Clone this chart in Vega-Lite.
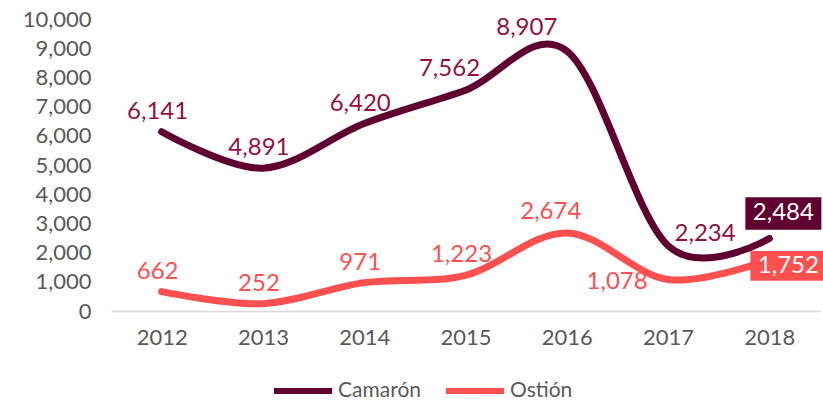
{
  "$schema": "https://vega.github.io/schema/vega-lite/v6.json",
  "width": 709,
  "height": 292,
  "autosize": {"type": "none"},
  "padding": {"left": 111, "top": 19, "right": 3, "bottom": 90},
  "config": {"view": {"stroke": null}, "font": "Lato"},
  "data": {
    "values": [
      {"year": "2012", "series": "Camarón", "value": 6141},
      {"year": "2013", "series": "Camarón", "value": 4891},
      {"year": "2014", "series": "Camarón", "value": 6420},
      {"year": "2015", "series": "Camarón", "value": 7562},
      {"year": "2016", "series": "Camarón", "value": 8907},
      {"year": "2017", "series": "Camarón", "value": 2234},
      {"year": "2018", "series": "Camarón", "value": 2484},
      {"year": "2012", "series": "Ostión", "value": 662},
      {"year": "2013", "series": "Ostión", "value": 252},
      {"year": "2014", "series": "Ostión", "value": 971},
      {"year": "2015", "series": "Ostión", "value": 1223},
      {"year": "2016", "series": "Ostión", "value": 2674},
      {"year": "2017", "series": "Ostión", "value": 1078},
      {"year": "2018", "series": "Ostión", "value": 1752}
    ]
  },
  "encoding": {
    "x": {
      "field": "year", "type": "ordinal",
      "scale": {"type": "point", "padding": 0.5},
      "axis": {"title": null, "labelAngle": 0, "labelFontSize": 22, "labelColor": "#595959", "ticks": false, "domainColor": "#d9d9d9", "domainWidth": 1.5, "labelPadding": 16, "grid": false}
    },
    "y": {
      "field": "value", "type": "quantitative",
      "scale": {"domain": [0, 10000]},
      "axis": {"title": null, "values": [0, 1000, 2000, 3000, 4000, 5000, 6000, 7000, 8000, 9000, 10000], "format": ",.0f", "labelFontSize": 22, "labelColor": "#595959", "domain": false, "ticks": false, "grid": false, "labelPadding": 20}
    }
  },
  "layer": [
    {
      "mark": {"type": "line", "interpolate": "cardinal", "strokeWidth": 7, "strokeCap": "round"},
      "encoding": {
        "color": {
          "field": "series", "type": "nominal",
          "scale": {"domain": ["Camarón", "Ostión"], "range": ["#600030", "#FF5050"]},
          "legend": {"orient": "none", "legendX": 160, "legendY": 340, "direction": "horizontal", "title": null, "symbolType": "stroke", "symbolSize": 3364, "symbolStrokeWidth": 6, "labelFontSize": 21, "labelColor": "#595959", "labelFont": "Lato", "columnPadding": 12, "labelOffset": 3}
        }
      }
    },
    {
      "transform": [{"filter": "!((datum.series === 'Camarón' && (datum.year === '2015' || datum.year === '2016' || datum.year === '2017' || datum.year === '2018')) || (datum.series === 'Ostión' && (datum.year === '2016' || datum.year === '2017' || datum.year === '2018')))"}],
      "mark": {"type": "text", "fontSize": 24, "dx": -4, "dy": -20, "baseline": "middle"},
      "encoding": {
        "text": {"field": "value", "type": "quantitative", "format": ",.0f"},
        "color": {"condition": {"test": "datum.series === 'Camarón'", "value": "#960F42"}, "value": "#FF5050"}
      }
    },
    {
      "transform": [{"filter": "(datum.series === 'Camarón' && datum.year === '2015') || (datum.series === 'Ostión' && datum.year === '2016')"}],
      "mark": {"type": "text", "fontSize": 24, "dx": -16, "dy": -21, "baseline": "middle"},
      "encoding": {
        "text": {"field": "value", "type": "quantitative", "format": ",.0f"},
        "color": {"condition": {"test": "datum.series === 'Camarón'", "value": "#960F42"}, "value": "#FF5050"}
      }
    },
    {
      "transform": [{"filter": "datum.series === 'Camarón' && datum.year === '2016'"}],
      "mark": {"type": "text", "fontSize": 24, "dx": -40, "dy": -23, "baseline": "middle", "color": "#960F42"},
      "encoding": {"text": {"field": "value", "type": "quantitative", "format": ",.0f"}}
    },
    {
      "transform": [{"filter": "datum.series === 'Camarón' && datum.year === '2017'"}],
      "mark": {"type": "text", "fontSize": 24, "dx": 37, "dy": -12, "baseline": "middle", "color": "#960F42"},
      "encoding": {"text": {"field": "value", "type": "quantitative", "format": ",.0f"}}
    },
    {
      "transform": [{"filter": "datum.series === 'Ostión' && datum.year === '2017'"}],
      "mark": {"type": "text", "fontSize": 24, "dx": -51, "dy": 2, "baseline": "middle", "color": "#FF5050"},
      "encoding": {"text": {"field": "value", "type": "quantitative", "format": ",.0f"}}
    },
    {
      "transform": [{"filter": "datum.series === 'Camarón' && datum.year === '2018'"}],
      "mark": {"type": "point", "shape": "M-1,-0.43L1,-0.43L1,0.43L-1,0.43Z", "size": 5776, "filled": true, "opacity": 1, "strokeWidth": 0, "color": "#600030", "xOffset": 14, "yOffset": -25},
      "encoding": {}
    },
    {
      "transform": [{"filter": "datum.series === 'Ostión' && datum.year === '2018'"}],
      "mark": {"type": "point", "shape": "M-1,-0.39L1,-0.39L1,0.39L-1,0.39Z", "size": 5776, "filled": true, "opacity": 1, "strokeWidth": 0, "color": "#FF5050", "xOffset": 19, "yOffset": 6},
      "encoding": {}
    },
    {
      "transform": [{"filter": "datum.series === 'Camarón' && datum.year === '2018'"}],
      "mark": {"type": "text", "fontSize": 24, "dx": 14, "dy": -25, "baseline": "middle", "color": "#ffffff"},
      "encoding": {"text": {"field": "value", "type": "quantitative", "format": ",.0f"}}
    },
    {
      "transform": [{"filter": "datum.series === 'Ostión' && datum.year === '2018'"}],
      "mark": {"type": "text", "fontSize": 24, "dx": 19, "dy": 6, "baseline": "middle", "color": "#ffffff"},
      "encoding": {"text": {"field": "value", "type": "quantitative", "format": ",.0f"}}
    }
  ]
}
